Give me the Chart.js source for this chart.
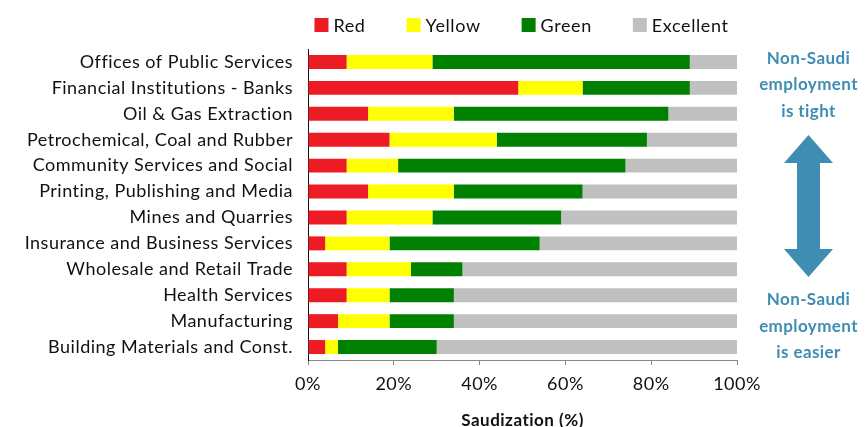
<!DOCTYPE html>
<html>
<head>
<meta charset="utf-8">
<script src="https://cdn.jsdelivr.net/npm/chart.js@4"></script>
<style>
  html, body { margin: 0; padding: 0; background: #ffffff; }
  #wrap { width: 866px; height: 427px; position: relative; }
</style>
</head>
<body>
<div id="wrap"><canvas id="c" width="866" height="427"></canvas></div>
<script>
const categories = [
  "Offices of Public Services",
  "Financial Institutions - Banks",
  "Oil & Gas Extraction",
  "Petrochemical, Coal and Rubber",
  "Community Services and Social",
  "Printing, Publishing and Media",
  "Mines and Quarries",
  "Insurance and Business Services",
  "Wholesale and Retail Trade",
  "Health Services",
  "Manufacturing",
  "Building Materials and Const."
];
const seriesNames = ["Red", "Yellow", "Green", "Excellent"];
const redValues       = [9, 49, 14, 19, 9, 14, 9, 4, 9, 9, 7, 4];
const yellowValues    = [20, 15, 20, 25, 12, 20, 20, 15, 15, 10, 12, 3];
const greenValues     = [60, 25, 50, 35, 53, 30, 30, 35, 12, 15, 15, 23];
const excellentValues = [11, 11, 16, 21, 26, 36, 41, 46, 64, 66, 66, 70];
const xTickLabels = ["0%", "20%", "40%", "60%", "80%", "100%"];
const axisTitle = "Saudization (%)";
const noteTop = ["Non-Saudi", "employment", "is tight"];
const noteBottom = ["Non-Saudi", "employment", "is easier"];

const FONT = "Lato, 'Open Sans', sans-serif";
const colors = ["#ED1C24", "#FFFF00", "#008000", "#C0C0C0"];
const NOTE_COLOR = "#3F8DB2";
const SPACING = "0.5px";

const spacingPlugin = {
  id: "spacing",
  beforeDraw(chart) { chart.ctx.letterSpacing = SPACING; }
};

const legendPlugin = {
  id: "customLegend",
  afterDraw(chart) {
    const ctx = chart.ctx;
    const ca = chart.chartArea;
    ctx.save();
    ctx.letterSpacing = "0.6px";
    ctx.font = "18px " + FONT;
    ctx.textBaseline = "middle";
    ctx.textAlign = "left";
    const box = 14, gapText = 5, gapItem = 41;
    const items = chart.data.datasets.map(d => ({label: d.label, color: d.backgroundColor, w: ctx.measureText(d.label).width}));
    let total = 0;
    items.forEach((it, i) => { total += box + gapText + it.w + (i < items.length - 1 ? gapItem : 0); });
    let x = (ca.left + ca.right) / 2 - total / 2 - 1;
    const cy = 25;
    items.forEach(it => {
      ctx.fillStyle = it.color;
      ctx.fillRect(x, cy - box / 2, box, box);
      ctx.fillStyle = "#111111";
      ctx.fillText(it.label, x + box + gapText, cy + 1);
      x += box + gapText + it.w + gapItem;
    });
    ctx.restore();
  }
};

const notePlugin = {
  id: "notes",
  afterDraw(chart) {
    const ctx = chart.ctx;
    const cx = 808.5;
    ctx.save();
    ctx.letterSpacing = "0.4px";
    ctx.fillStyle = NOTE_COLOR;
    ctx.font = "bold 17px " + FONT;
    ctx.textAlign = "center";
    ctx.textBaseline = "middle";
    noteTop.forEach((t, i) => ctx.fillText(t, cx, 58.5 + i * 26.5));
    noteBottom.forEach((t, i) => ctx.fillText(t, cx, 300 + i * 26.5));
    const tipTop = 135, headTop = 163, headBot = 249, tipBot = 277;
    const hw = 24.5, sw = 11.5;
    ctx.beginPath();
    ctx.moveTo(cx, tipTop);
    ctx.lineTo(cx + hw, headTop);
    ctx.lineTo(cx + sw, headTop);
    ctx.lineTo(cx + sw, headBot);
    ctx.lineTo(cx + hw, headBot);
    ctx.lineTo(cx, tipBot);
    ctx.lineTo(cx - hw, headBot);
    ctx.lineTo(cx - sw, headBot);
    ctx.lineTo(cx - sw, headTop);
    ctx.lineTo(cx - hw, headTop);
    ctx.closePath();
    ctx.fill();
    ctx.restore();
  }
};

const valueSets = [redValues, yellowValues, greenValues, excellentValues];
const datasets = seriesNames.map((name, i) => ({
  label: name,
  data: valueSets[i],
  backgroundColor: colors[i],
  borderWidth: 0,
  categoryPercentage: 1,
  barPercentage: 0.54
}));

new Chart(document.getElementById("c"), {
  type: "bar",
  data: { labels: categories, datasets },
  options: {
    indexAxis: "y",
    responsive: false,
    animation: false,
    devicePixelRatio: 1,
    layout: { padding: { top: 49, right: 129, left: 0, bottom: 0 } },
    plugins: {
      legend: { display: false },
      tooltip: { enabled: false },
      title: { display: false }
    },
    scales: {
      x: {
        stacked: true,
        min: 0,
        max: 100,
        ticks: {
          stepSize: 20,
          color: "#111111",
          font: { family: FONT, size: 18 },
          padding: 8,
          maxRotation: 0,
          callback: (v) => xTickLabels[Math.round(v / 20)]
        },
        grid: { drawOnChartArea: false, drawTicks: true, tickLength: 5, color: "#868686" },
        border: { color: "#868686", width: 1 },
        title: {
          display: true,
          text: axisTitle,
          color: "#111111",
          font: { family: FONT, size: 17, weight: "bold" },
          padding: { top: 0, bottom: -4 }
        },
        afterFit(scale) { scale.height = 67; }
      },
      y: {
        stacked: true,
        ticks: {
          color: "#111111",
          font: { family: FONT, size: 18 },
          padding: 15,
          autoSkip: false
        },
        grid: { drawOnChartArea: false, drawTicks: false },
        border: { color: "#111111", width: 1 },
        afterFit(scale) { scale.width = 308; }
      }
    }
  },
  plugins: [spacingPlugin, legendPlugin, notePlugin]
});
</script>
</body>
</html>
